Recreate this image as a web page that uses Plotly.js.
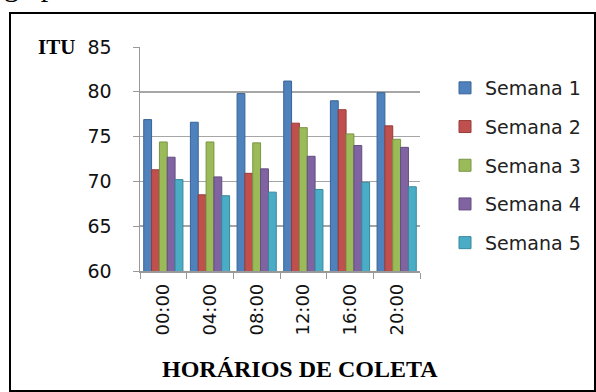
<!DOCTYPE html>
<html><head><meta charset="utf-8">
<script src="https://cdn.plot.ly/plotly-3.0.1.min.js"></script>
<style>html,body{margin:0;padding:0;background:#fff}
#wrap{position:relative;width:596px;height:392px;overflow:hidden}
#c{width:596px;height:392px}
#frame{position:absolute;left:9px;top:12px;width:583px;height:376px;border:2px solid #000;pointer-events:none}
</style>
</head><body><div id="wrap"><div id="c"></div><div id="frame"></div></div>
<script>
const categories = ["00:00","04:00","08:00","12:00","16:00","20:00"];
const seriesNames = ["Semana 1","Semana 2","Semana 3","Semana 4","Semana 5"];
const semana1 = [76.9, 76.6, 79.8, 81.2, 79.0, 79.9];
const semana2 = [71.3, 68.5, 70.9, 76.5, 78.0, 76.2];
const semana3 = [74.4, 74.4, 74.3, 76.0, 75.3, 74.7];
const semana4 = [72.7, 70.5, 71.4, 72.8, 74.0, 73.8];
const semana5 = [70.2, 68.4, 68.8, 69.1, 69.9, 69.4];
const yTicks = [60, 65, 70, 75, 80, 85];
const colors = ["#4F81BD","#C0504D","#9BBB59","#8064A2","#4BACC6"];
const edge = ["#3a6496","#963c3a","#7a9445","#634d80","#37889c"];
const allSeries = [semana1, semana2, semana3, semana4, semana5];

const W = 596, H = 392;
const m = {l:140, r:176, t:47, b:121};
const pw = W - m.l - m.r, ph = H - m.t - m.b;
const px = x => (x - m.l) / pw;
const py = y => (H - m.b - y) / ph;
const sans = "'DejaVu Sans', sans-serif";
const serif = "'Liberation Serif', 'Times New Roman', serif";

const traces = allSeries.map((s, i) => ({
  type: "bar", name: seriesNames[i], x: categories, y: s, legendgroup: "g" + i,
  marker: {color: colors[i], line: {color: edge[i], width: 1}},
  hoverinfo: "skip"
}));

const layout = {
  width: W, height: H, margin: m,
  paper_bgcolor: "#fff", plot_bgcolor: "#fff",
  barmode: "group", bargap: 0.16, bargroupgap: 0,
  showlegend: true,
  legend: {xref: "container", yref: "container", x: 445 / W, y: 1 - 69 / H,
    xanchor: "left", yanchor: "top",
    bgcolor: "rgba(0,0,0,0)", borderwidth: 0,
    font: {family: sans, size: 19, color: "#222"},
    tracegroupgap: 11, itemwidth: 30, traceorder: "grouped"},
  xaxis: {type: "category", tickangle: -90, showgrid: false, showline: true,
    linecolor: "#999", linewidth: 1.5, ticks: "outside", ticklen: 6, tickcolor: "#999",
    tickson: "boundaries", ticklabelstandoff: 4,
    tickfont: {family: sans, size: 18, color: "#111"}},
  yaxis: {range: [60, 85], tickvals: yTicks, showgrid: true, gridcolor: "#a6a6a6", gridwidth: 1.5,
    showline: true, linecolor: "#999", linewidth: 1.5, ticks: "outside", ticklen: 6, tickcolor: "#999",
    zeroline: false, ticklabelstandoff: 17,
    tickfont: {family: sans, size: 19, color: "#111"}},
  annotations: [
    {xref: "paper", yref: "paper", x: px(36), y: py(47), xanchor: "left", yanchor: "middle",
     text: "<b>ITU</b>", showarrow: false,
     font: {family: serif, size: 21, color: "#000"}},
    {xref: "paper", yref: "paper", x: px(300), y: py(369), xanchor: "center", yanchor: "middle",
     text: "<b>HORÁRIOS DE COLETA</b>", showarrow: false,
     font: {family: serif, size: 24, color: "#000"}},
    {xref: "paper", yref: "paper", x: px(2), y: py(4), xanchor: "left", yanchor: "bottom",
     text: "galpão 1.", showarrow: false,
     font: {family: serif, size: 30, color: "#000"}}
  ]
};
Plotly.newPlot("c", traces, layout, {displayModeBar: false, staticPlot: true});
</script></body></html>
